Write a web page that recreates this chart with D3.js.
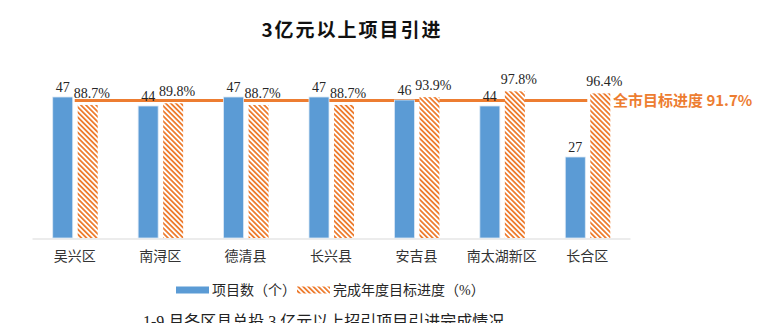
<!DOCTYPE html>
<html><head><meta charset="utf-8">
<script src="https://cdn.jsdelivr.net/npm/d3@7"></script>
<style>
html,body{margin:0;padding:0;background:#fff;overflow:hidden;}
svg{display:block;}
</style></head>
<body>
<svg id="chart" width="768" height="323"></svg>
<script>
const title = "3亿元以上项目引进";
const categories = ["吴兴区","南浔区","德清县","长兴县","安吉县","南太湖新区","长合区"];
const projectCounts = [47,44,47,47,46,44,27];
const progressPct = [88.7,89.8,88.7,88.7,93.9,97.8,96.4];
const cityTarget = 91.7;
const targetLabel = "全市目标进度 91.7%";
const legendLabels = ["项目数（个）","完成年度目标进度（%）"];
const caption = "1-9 月各区县总投 3 亿元以上招引项目引进完成情况";

const BLUE = "#5B9BD5", ORANGE = "#ED7D31";
const serif = "'Liberation Serif','Noto Sans CJK SC',serif";
const svg = d3.select("#chart");

const defs = svg.append("defs");
const pat = defs.append("pattern").attr("id","hatch").attr("patternUnits","userSpaceOnUse")
  .attr("width",3.6).attr("height",3.6).attr("patternTransform","rotate(-45)");
pat.append("rect").attr("width",3.6).attr("height",3.6).attr("fill","#fff");
pat.append("rect").attr("x",0).attr("y",0).attr("width",1.8).attr("height",3.6).attr("fill",ORANGE);

const x = d3.scaleBand().domain(categories).range([32,630]);
const yCount = d3.scaleLinear().domain([0,50]).range([238,88]);
const yPct = d3.scaleLinear().domain([0,100]).range([238,88]);
const cx = d => x(d) + x.bandwidth()/2;
const bw = 20;

// title
svg.append("text").attr("x",352).attr("y",37).attr("text-anchor","middle")
  .attr("font-family","'Noto Sans CJK SC',sans-serif").attr("font-weight",700)
  .attr("font-size",19).attr("letter-spacing",2).attr("fill","#111").text(title);

// axis
const xAxis = d3.axisBottom(x).tickSize(0).tickPadding(13);
const ax = svg.append("g").attr("transform","translate(0,238.5)").call(xAxis);
ax.select(".domain").attr("stroke","#d9d9d9").attr("stroke-width",1);
ax.selectAll("text").attr("font-family",serif).attr("font-size",14).attr("fill","#333");

// target line
svg.append("line").attr("x1",cx(categories[0])).attr("x2",cx(categories[categories.length-1]))
  .attr("y1",yPct(cityTarget)).attr("y2",yPct(cityTarget))
  .attr("stroke",ORANGE).attr("stroke-width",3);

// blue bars
svg.selectAll(".bb").data(categories).join("rect").attr("class","bb")
  .attr("x",d=>cx(d)-22).attr("width",bw)
  .attr("y",(d,i)=>yCount(projectCounts[i])).attr("height",(d,i)=>238-yCount(projectCounts[i]))
  .attr("fill",BLUE).attr("stroke","#dbe8f5").attr("stroke-width",0.8);

// hatch bars
svg.selectAll(".ob").data(categories).join("rect").attr("class","ob")
  .attr("x",d=>cx(d)+3).attr("width",bw)
  .attr("y",(d,i)=>yPct(progressPct[i])).attr("height",(d,i)=>238-yPct(progressPct[i]))
  .attr("fill","url(#hatch)");

// value labels
svg.selectAll(".bl").data(categories).join("text").attr("class","bl")
  .attr("x",d=>cx(d)-12).attr("y",(d,i)=>yCount(projectCounts[i])-5)
  .attr("text-anchor","middle").attr("font-family",serif).attr("font-size",14).attr("fill","#262626")
  .text((d,i)=>projectCounts[i]);
svg.selectAll(".ol").data(categories).join("text").attr("class","ol")
  .attr("x",d=>cx(d)+17).attr("y",(d,i)=>yPct(progressPct[i])-7)
  .attr("text-anchor","middle").attr("font-family",serif).attr("font-size",14).attr("fill","#262626")
  .text((d,i)=>progressPct[i].toFixed(1)+"%");

// target label
svg.append("text").attr("x",613).attr("y",yPct(cityTarget)).attr("dy","0.36em")
  .attr("font-family","'Noto Sans CJK SC',sans-serif").attr("font-weight",700)
  .attr("font-size",15).attr("fill",ORANGE).text(targetLabel);

// legend
const lg = svg.append("g");
lg.append("rect").attr("x",176).attr("y",286.5).attr("width",33).attr("height",7).attr("fill",BLUE);
lg.append("text").attr("x",212).attr("y",295).attr("font-family",serif).attr("font-size",14).attr("fill","#262626").text(legendLabels[0]);
lg.append("rect").attr("x",297).attr("y",286.5).attr("width",33).attr("height",7).attr("fill","url(#hatch)");
lg.append("text").attr("x",333).attr("y",295).attr("font-family",serif).attr("font-size",14).attr("fill","#262626").text(legendLabels[1]);

// caption (cut off at the bottom edge, as in the reference)
svg.append("text").attr("x",143).attr("y",327).attr("font-family",serif).attr("font-size",16)
  .attr("fill","#222").text(caption);
</script>
</body></html>
